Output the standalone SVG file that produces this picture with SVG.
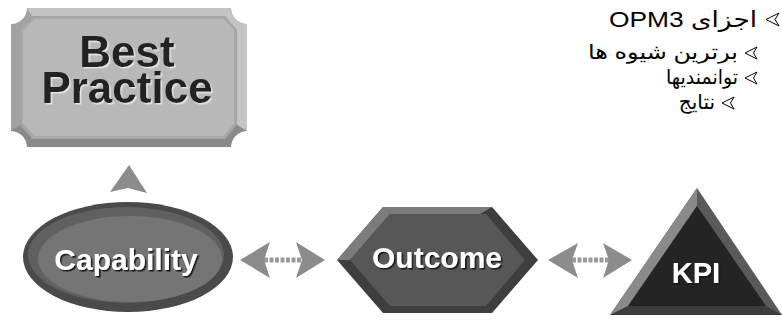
<svg xmlns="http://www.w3.org/2000/svg" width="782" height="320" viewBox="0 0 782 320">
<defs>
<style>
.lbl{font-family:"Liberation Sans",Arial,sans-serif;font-weight:bold;text-anchor:middle}
.wt{fill:#ffffff;filter:url(#darkSh)}
.dk{fill:#222222;filter:url(#lightSh)}
.fa{font-family:"Liberation Sans","DejaVu Sans",sans-serif;fill:#000}
.bul{fill:#fff;stroke:#000;stroke-width:1;stroke-linejoin:miter}
.ah{fill:#8c8c8c}
.dash{stroke:#9a9a9a;stroke-width:5;stroke-dasharray:4 1.5;fill:none}
</style>
<filter id="darkSh" x="-10%" y="-20%" width="130%" height="150%">
<feDropShadow dx="1.5" dy="1.5" stdDeviation="0.3" flood-color="#151515" flood-opacity="1"/>
</filter>
<filter id="lightSh" x="-10%" y="-20%" width="130%" height="150%">
<feDropShadow dx="1.5" dy="1.5" stdDeviation="0.3" flood-color="#e4e4e4" flood-opacity="1"/>
</filter>
</defs>
<rect width="782" height="320" fill="#ffffff"/>

<g id="best-practice">
<path d="M27,8 H231 A16,16 0 0 0 247,24 V131 A16,16 0 0 0 231,147 H27 A16,16 0 0 0 11,131 V24 A16,16 0 0 0 27,8 Z" fill="#a2a2a2"/>
<path d="M27,8 H231 A16,16 0 0 0 247,24 V131 L237,125 V30 L225,16 H32 Z" fill="#c4c4c4"/>
<path d="M11,131 A16,16 0 0 1 27,147 H231 A16,16 0 0 1 247,131 L237,125 L225,139 H32 L20,125 Z" fill="#8a8a8a"/>
<path d="M34,18 H224 L235,30 V124 L224,137 H34 L22,124 V30 Z" fill="#b8b8b8" stroke="#a8a8a8" stroke-width="2"/>
<text class="lbl dk" font-size="44"><tspan x="127" y="67">Best</tspan><tspan x="127" y="103">Practice</tspan></text>
</g>

<g id="capability">
<ellipse cx="128" cy="257" rx="105" ry="55" fill="#4a4a4a"/>
<ellipse cx="126" cy="255" rx="98" ry="48" fill="#606060"/>
<ellipse cx="130" cy="259" rx="92" ry="43" fill="#757575"/>
<text class="lbl wt" x="126" y="270" font-size="30">Capability</text>
</g>

<g id="outcome">
<polygon points="337,260 383,207 492,207 538,260 492,313 383,313" fill="#3e3e3e"/>
<polygon points="337,260 383,207 492,207 480,214 390,214 350,260" fill="#7c7c7c"/>
<polygon points="350,260 390,214 486,214 525,260 486,306 390,306" fill="#575757"/>
<text class="lbl wt" x="437" y="268" font-size="30">Outcome</text>
</g>

<g id="kpi">
<polygon points="697,188 610,315 782,315" fill="#5a5a5a"/>
<polygon points="697,188 610,315 628,306 697,206" fill="#8a8a8a"/>
<polygon points="610,315 782,315 766,306 628,306" fill="#3c3c3c"/>
<polygon points="697,206 628,306 766,306" fill="#242424"/>
<text class="lbl wt" x="696" y="283" font-size="29">KPI</text>
</g>

<g id="connectors">
<polygon class="ah" points="110,192 129,165 147,193 128,188"/>
<line class="dash" x1="264" y1="260" x2="302" y2="260"/>
<polygon class="ah" points="240,260 270,242 264,260 270,278"/>
<polygon class="ah" points="325,260 296,242 302,260 296,278"/>
<line class="dash" x1="572" y1="260" x2="609" y2="260"/>
<polygon class="ah" points="548,260 578,243 572,260 578,278"/>
<polygon class="ah" points="632,260 603,243 609,260 603,278"/>
</g>

<g id="bullets">
<path class="bul" d="M779,13 L766,19.5 L779,26 L775,19.5 Z"/>
<path class="bul" d="M757,47 L745,53 L757,59 L753.5,53 Z"/>
<path class="bul" d="M757,72 L745,78 L757,84 L753.5,78 Z"/>
<path class="bul" d="M734,97 L722,103 L734,109 L730.5,103 Z"/>
<text class="fa" x="757" y="27" font-size="22" direction="rtl" text-anchor="start" textLength="148" lengthAdjust="spacingAndGlyphs">اجزای OPM3</text>
<text class="fa" x="738" y="59" font-size="20" direction="rtl" text-anchor="start" textLength="150" lengthAdjust="spacingAndGlyphs">برترین شیوه ها</text>
<text class="fa" x="738" y="84" font-size="20" direction="rtl" text-anchor="start" textLength="72" lengthAdjust="spacingAndGlyphs">توانمندیها</text>
<text class="fa" x="715" y="109" font-size="20" direction="rtl" text-anchor="start">نتایج</text>
</g>
</svg>
